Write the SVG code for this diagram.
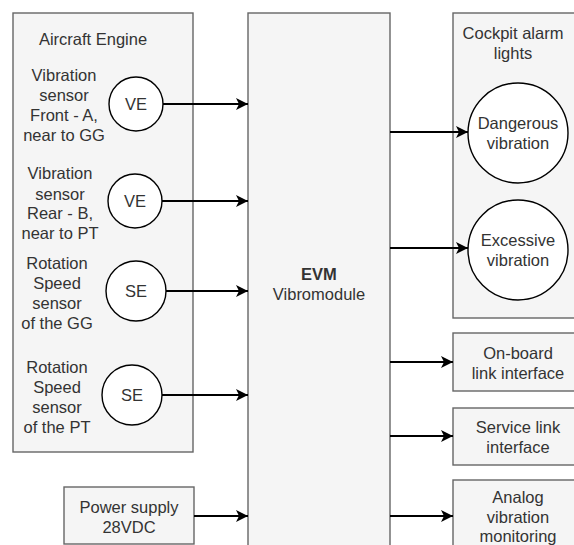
<svg xmlns="http://www.w3.org/2000/svg" width="574" height="545" viewBox="0 0 574 545">
<defs>
<marker id="arr" markerUnits="userSpaceOnUse" markerWidth="14" markerHeight="12" refX="12" refY="6" orient="auto">
<path d="M0,0 L12,6 L0,12 L3,6 Z" fill="#000"/>
</marker>
</defs>
<style>
.box{fill:#f5f5f5;stroke:#666;stroke-width:1.4}
.circ{fill:#fff;stroke:#000;stroke-width:1.4}
.t{font-family:"Liberation Sans",Arial,sans-serif;font-size:16.5px;fill:#333;text-anchor:middle;dominant-baseline:central}
.c{stroke:#000;stroke-width:2;fill:none;marker-end:url(#arr)}
</style>
<rect width="574" height="545" fill="#fff"/>
<g id="engine">
<rect class="box" x="13" y="13" width="180" height="439"/>
<text class="t" x="93" y="39">Aircraft Engine</text>
</g>
<g id="ve1">
<circle class="circ" cx="136" cy="104" r="27"/>
<text class="t" x="136" y="104">VE</text>
<text class="t" x="64" y="75">Vibration</text>
<text class="t" x="64" y="95">sensor</text>
<text class="t" x="64" y="115">Front - A,</text>
<text class="t" x="64" y="135">near to GG</text>
</g>
<g id="ve2">
<circle class="circ" cx="135" cy="201" r="27"/>
<text class="t" x="135" y="201">VE</text>
<text class="t" x="60" y="173">Vibration</text>
<text class="t" x="60" y="194">sensor</text>
<text class="t" x="60" y="213">Rear - B,</text>
<text class="t" x="60" y="233">near to PT</text>
</g>
<g id="se1">
<circle class="circ" cx="136" cy="291" r="30"/>
<text class="t" x="136" y="291">SE</text>
<text class="t" x="57" y="263">Rotation</text>
<text class="t" x="57" y="283">Speed</text>
<text class="t" x="57" y="303">sensor</text>
<text class="t" x="57" y="323">of the GG</text>
</g>
<g id="se2">
<circle class="circ" cx="132" cy="395" r="30"/>
<text class="t" x="132" y="395">SE</text>
<text class="t" x="57" y="367">Rotation</text>
<text class="t" x="57" y="387">Speed</text>
<text class="t" x="57" y="407">sensor</text>
<text class="t" x="57" y="427">of the PT</text>
</g>
<g id="power">
<rect class="box" x="64" y="487" width="130" height="57"/>
<text class="t" x="129" y="507">Power supply</text>
<text class="t" x="129" y="527">28VDC</text>
</g>
<g id="evm">
<rect class="box" x="248" y="13" width="142" height="560"/>
<text class="t" x="319" y="274" font-weight="bold">EVM</text>
<text class="t" x="319" y="294">Vibromodule</text>
</g>
<g id="cockpit">
<rect class="box" x="453" y="13" width="140" height="305"/>
<text class="t" x="513" y="33">Cockpit alarm</text>
<text class="t" x="513" y="53">lights</text>
</g>
<g id="dangerous">
<circle class="circ" cx="518" cy="133" r="50"/>
<text class="t" x="518" y="123">Dangerous</text>
<text class="t" x="518" y="143">vibration</text>
</g>
<g id="excessive">
<circle class="circ" cx="518" cy="250" r="50"/>
<text class="t" x="518" y="240">Excessive</text>
<text class="t" x="518" y="260">vibration</text>
</g>
<g id="onboard">
<rect class="box" x="453" y="333" width="140" height="58"/>
<text class="t" x="518" y="353">On-board</text>
<text class="t" x="518" y="373">link interface</text>
</g>
<g id="service">
<rect class="box" x="453" y="408" width="140" height="57"/>
<text class="t" x="518" y="427">Service link</text>
<text class="t" x="518" y="447">interface</text>
</g>
<g id="analog">
<rect class="box" x="453" y="480" width="140" height="90"/>
<text class="t" x="518" y="497">Analog</text>
<text class="t" x="518" y="517">vibration</text>
<text class="t" x="518" y="536">monitoring</text>
</g>
<g id="connectors">
<line class="c" x1="163" y1="104" x2="248" y2="104"/>
<line class="c" x1="162" y1="201" x2="248" y2="201"/>
<line class="c" x1="166" y1="291" x2="248" y2="291"/>
<line class="c" x1="162" y1="395" x2="248" y2="395"/>
<line class="c" x1="194" y1="516" x2="248" y2="516"/>
<line class="c" x1="390" y1="132" x2="468" y2="132"/>
<line class="c" x1="390" y1="248" x2="468" y2="248"/>
<line class="c" x1="390" y1="362" x2="453" y2="362"/>
<line class="c" x1="390" y1="436" x2="453" y2="436"/>
<line class="c" x1="390" y1="516" x2="453" y2="516"/>
</g>
</svg>
